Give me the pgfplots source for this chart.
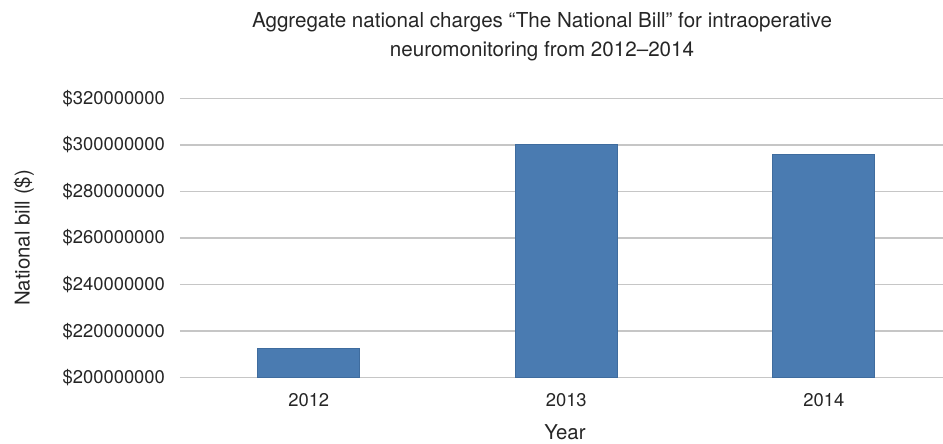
\documentclass[border=0pt]{standalone}
\usepackage{fontspec}
\setmainfont{TeX Gyre Heros}
\usepackage{pgfplots}
\pgfplotsset{compat=1.18}
\definecolor{barblue}{HTML}{4A7BB1}
\definecolor{baredge}{HTML}{3F6C9E}
\definecolor{gridgray}{HTML}{C6C6C6}
\definecolor{txt}{HTML}{262626}
\begin{document}
\begin{tikzpicture}[font=\fontsize{9.2}{11}\selectfont, text=txt]
\path[use as bounding box] (-90pt,-33.15pt) rectangle (381.5pt,188.85pt);
\begin{axis}[
  scale only axis, width=381.5pt, height=139.7pt,
  at={(0,0)}, anchor=south west,
  xmin=-0.5, xmax=2.463, ymin=200000000, ymax=320000000,
  scaled y ticks=false,
  ytick={200000000,220000000,240000000,260000000,280000000,300000000,320000000},
  yticklabels={\$200000000,\$220000000,\$240000000,\$260000000,\$280000000,\$300000000,\$320000000},
  xtick={0,1,2}, xticklabels={2012,2013,2014},
  ymajorgrids, grid style={gridgray, line width=0.75pt},
  axis line style={draw=none}, major tick style={draw=none},
  yticklabel style={anchor=east, xshift=-4pt, font=\fontsize{9.2}{11}\selectfont},
  xticklabel style={anchor=base, yshift=-10pt, font=\fontsize{9.2}{11}\selectfont},
  ybar, bar width=0.396,
]
\addplot[fill=barblue, draw=baredge, line width=0.4pt] coordinates {(0,212700000) (1,300100000) (2,295900000)};
\end{axis}
\node[font=\fontsize{10.3}{12}\selectfont, anchor=base] at (181pt,175.2pt) {Aggregate national charges “The National Bill” for intraoperative};
\node[font=\fontsize{10.3}{12}\selectfont, anchor=base] at (181pt,160.5pt) {neuromonitoring from 2012–2014};
\node[font=\fontsize{10.2}{12}\selectfont] at (192.5pt,-27.15pt) {Year};
\node[font=\fontsize{10.2}{12}\selectfont, rotate=90] at (-78pt,69.85pt) {National bill (\$)};
\end{tikzpicture}
\end{document}
